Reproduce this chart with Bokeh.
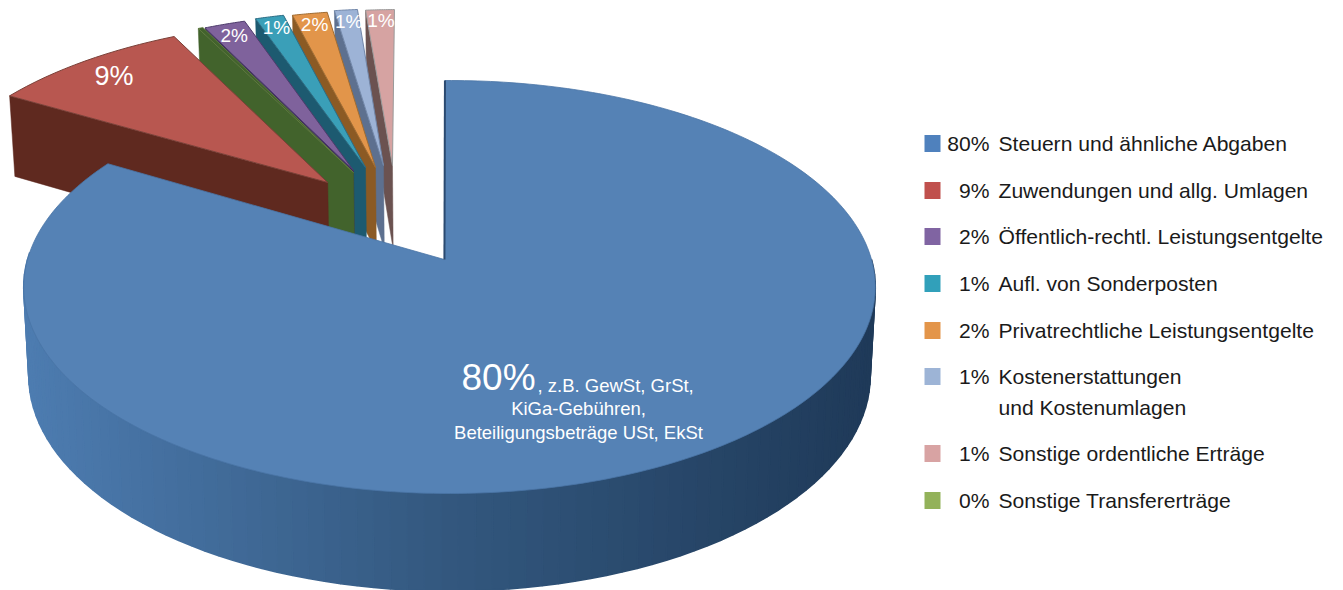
import math
from bokeh.embed import file_html
from bokeh.resources import INLINE
from bokeh.plotting import figure
from bokeh.models import Range1d
from bokeh.core.properties import value

# ---- data ----
categories = ["Steuern und ähnliche Abgaben", "Zuwendungen und allg. Umlagen",
              "Öffentlich-rechtl. Leistungsentgelte", "Aufl. von Sonderposten",
              "Privatrechtliche Leistungsentgelte", "Kostenerstattungen",
              "Sonstige ordentliche Erträge", "Sonstige Transfererträge"]
legend_pct = ["80%", "9%", "2%", "1%", "2%", "1%", "1%", "0%"]
# drawn size of each slice, clockwise from the top, in percent of the circle
slice_names = ["blue", "red", "green", "purple", "teal", "orange", "lightblue", "pink"]
slice_shares = [83.6, 8.98, 0.22, 1.89, 1.31, 1.61, 1.06, 1.33]
slice_labels = ["", "9%", "", "2%", "1%", "2%", "1%", "1%"]

# ---- styling / layout ----
top_colors = ["#5582b5", "#b85750", "#8fad58", "#7f629c", "#3a9fb8", "#e2954a", "#9db3d6", "#d6a3a2"]
wall_colors = ["#2b4a70", "#5f291f", "#42632c", "#3c2b5c", "#1d5a70", "#8b5a24", "#5d708f", "#6b5250"]
edge_colors = ["#4a75a6", "#7a4038", "#5f7a3f", "#4d3b6b", "#2c6d85", "#a06c32", "#7186a8", "#9a9a9a"]
explode_u = [-0.012, -0.304, -0.2413, -0.2416, -0.2118, -0.1866, -0.1667, -0.144]
explode_v = [0.0, 0.400, 0.4548, 0.466, 0.4827, 0.4827, 0.494, 0.494]
radius = [1.0, 1.0, 1.0, 0.985, 0.985, 0.985, 0.985, 0.98]
legend_colors = ["#4f81bd", "#c0504d", "#8064a2", "#31a0ba", "#e3954a", "#9db4d6", "#d8a3a3", "#93b25a"]
legend_y = [143, 190, 236, 283, 330, 376, 453, 500]
ROT = -0.7
CX, CY, A, B, K = 449.0, 286.5, 422.0, 206.5, 0.133
FONT = "Liberation Sans"
LEG = "21.1px"


def project(u, v):
    w = 1 + K * v
    return CX + A * u / w, CY - (B * v + B * K) / w


def lower(x, y):
    yy = CY - y
    return CX + (x - CX) * 0.988, y + (88.7 - 0.0427 * yy)


def rim(cu, cv, a0, a1, n=40, r=1.0):
    pts = []
    for i in range(n + 1):
        a = math.radians(a0 + (a1 - a0) * i / n)
        pts.append(project(cu + r * math.sin(a), cv + r * math.cos(a)))
    return pts


def mix(c1, c2, t):
    a = [int(c1[i:i + 2], 16) for i in (1, 3, 5)]
    b = [int(c2[i:i + 2], 16) for i in (1, 3, 5)]
    return "#%02x%02x%02x" % tuple(round(p + (q - p) * t) for p, q in zip(a, b))


p = figure(width=1343, height=590, output_backend="svg", toolbar_location=None,
           x_range=Range1d(0, 1343), y_range=Range1d(590, 0), min_border=0,
           x_axis_type=None, y_axis_type=None)
p.grid.visible = False
p.outline_line_color = None
p.background_fill_color = "white"

edges = []
acc = ROT
for s in slice_shares:
    edges.append((acc, acc + s * 3.6))
    acc += s * 3.6

# exploded slices, painted from the back to the front
for i in range(7, 0, -1):
    a0, a1 = edges[i]
    cu, cv = explode_u[i], explode_v[i]
    apex = project(cu, cv)
    arc = rim(cu, cv, a0, a1, 16, radius[i])
    # cut face on the left side of the slice
    o = arc[0]
    quad = [apex, o, lower(*o), lower(*apex)]
    p.patch([q[0] for q in quad], [q[1] for q in quad], fill_color=wall_colors[i],
            line_color=wall_colors[i], line_width=0.5)
    poly = [apex] + arc
    p.patch([q[0] for q in poly], [q[1] for q in poly], fill_color=top_colors[i] if i != 2 else wall_colors[i],
            line_color=edge_colors[i], line_width=1)

# main slice: side strips with a shading from left to right
a0, a1 = edges[0]
xs_s, ys_s, cols = [], [], []
n = 90
front0, front1 = 90.0, 272.0
for i in range(n):
    t0 = front0 + (front1 - front0) * i / n
    t1 = front0 + (front1 - front0) * (i + 1) / n
    q0 = project(math.sin(math.radians(t0)), math.cos(math.radians(t0)))
    q1 = project(math.sin(math.radians(t1)), math.cos(math.radians(t1)))
    xs_s.append([q0[0], q1[0], lower(*q1)[0], lower(*q0)[0]])
    ys_s.append([q0[1], q1[1], lower(*q1)[1], lower(*q0)[1]])
    f = (CX + A - q0[0]) / (2 * A)  # 0 at the right, 1 at the left
    cols.append(mix("#1f3a59", "#33587f", f / 0.5) if f < 0.5 else mix("#33587f", "#4d7cb0", (f - 0.5) / 0.5))
p.patches(xs_s, ys_s, fill_color=cols, line_color=cols, line_width=1.6)

apex = project(explode_u[0], explode_v[0])
arc = rim(0, 0, a0, a1, 300)
poly = [apex] + arc
p.patch([q[0] for q in poly], [q[1] for q in poly], fill_color=top_colors[0],
        line_color=edge_colors[0], line_width=0.8)
# thin visible cut face along the start edge
p.line([apex[0], arc[0][0]], [apex[1], arc[0][1]], line_color="#2b4a70", line_width=2)

# percentage labels on the exploded slices
label_size = {1: "27px"}
for i in range(1, 8):
    if not slice_labels[i]:
        continue
    a = math.radians((edges[i][0] + edges[i][1]) / 2)
    r = 0.87 if i == 1 else 0.905
    x, y = project(explode_u[i] + r * math.sin(a), explode_v[i] + r * math.cos(a))
    p.text([x], [y], text=[slice_labels[i]], text_color="white", text_font=value(FONT),
           text_font_size=label_size.get(i, "19px"), text_align="center", text_baseline="middle")

# main slice label
p.text([461], [377], text=[legend_pct[0]], text_color="white", text_font=value(FONT), text_font_size="37px",
       text_align="left", text_baseline="middle")
p.text([537], [385], text=[", z.B. GewSt, GrSt,"], text_color="white", text_font=value(FONT), text_font_size="18.5px",
       text_align="left", text_baseline="middle")
p.text([578], [408], text=["KiGa-Gebühren,"], text_color="white", text_font=value(FONT), text_font_size="18.5px",
       text_align="center", text_baseline="middle")
p.text([578], [432], text=["Beteiligungsbeträge USt, EkSt"], text_color="white", text_font=value(FONT),
       text_font_size="18.5px", text_align="center", text_baseline="middle")

# legend
for i, c in enumerate(categories):
    y = legend_y[i]
    p.rect([932], [y], width=16, height=17, fill_color=legend_colors[i], line_color=None)
    p.text([989], [y], text=[legend_pct[i]], text_color="#1a1a1a", text_font=value(FONT), text_font_size=LEG,
           text_align="right", text_baseline="middle")
    p.text([998], [y], text=[c], text_color="#1a1a1a", text_font=value(FONT), text_font_size=LEG,
           text_align="left", text_baseline="middle")
p.text([998], [407], text=["und Kostenumlagen"], text_color="#1a1a1a", text_font=value(FONT), text_font_size=LEG,
       text_align="left", text_baseline="middle")

open("out.html", "w").write(file_html(p, INLINE))
